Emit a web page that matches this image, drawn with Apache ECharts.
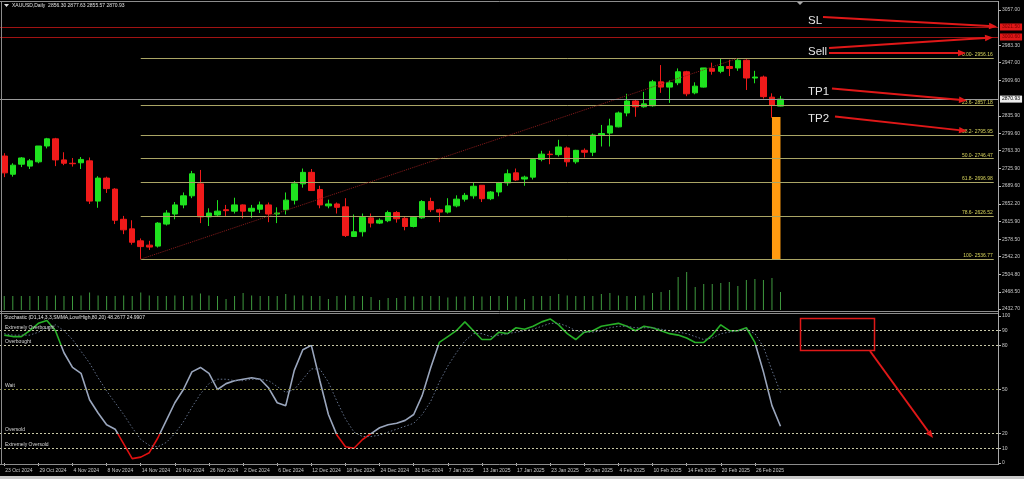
<!DOCTYPE html>
<html><head><meta charset="utf-8">
<script src="https://cdn.jsdelivr.net/npm/echarts@6/dist/echarts.min.js"></script>
<style>html,body{margin:0;padding:0;background:#000;overflow:hidden}#c{width:1024px;height:479px}</style>
</head><body><div id="c"></div>
<script>
// ---------- DATA ----------
const dates = [
'23 Oct 2024','24 Oct 2024','25 Oct 2024','28 Oct 2024','29 Oct 2024','30 Oct 2024','31 Oct 2024',
'1 Nov 2024','4 Nov 2024','5 Nov 2024','6 Nov 2024','7 Nov 2024','8 Nov 2024','11 Nov 2024','12 Nov 2024','13 Nov 2024','14 Nov 2024','15 Nov 2024','18 Nov 2024','19 Nov 2024','20 Nov 2024','21 Nov 2024','22 Nov 2024','25 Nov 2024','26 Nov 2024','27 Nov 2024','28 Nov 2024','29 Nov 2024',
'2 Dec 2024','3 Dec 2024','4 Dec 2024','5 Dec 2024','6 Dec 2024','9 Dec 2024','10 Dec 2024','11 Dec 2024','12 Dec 2024','13 Dec 2024','16 Dec 2024','17 Dec 2024','18 Dec 2024','19 Dec 2024','20 Dec 2024','23 Dec 2024','24 Dec 2024','26 Dec 2024','27 Dec 2024','30 Dec 2024','31 Dec 2024',
'2 Jan 2025','3 Jan 2025','6 Jan 2025','7 Jan 2025','8 Jan 2025','9 Jan 2025','10 Jan 2025','13 Jan 2025','14 Jan 2025','15 Jan 2025','16 Jan 2025','17 Jan 2025','20 Jan 2025','21 Jan 2025','22 Jan 2025','23 Jan 2025','24 Jan 2025','27 Jan 2025','28 Jan 2025','29 Jan 2025','30 Jan 2025','31 Jan 2025',
'3 Feb 2025','4 Feb 2025','5 Feb 2025','6 Feb 2025','7 Feb 2025','10 Feb 2025','11 Feb 2025','12 Feb 2025','13 Feb 2025','14 Feb 2025','17 Feb 2025','18 Feb 2025','19 Feb 2025','20 Feb 2025','21 Feb 2025','24 Feb 2025','25 Feb 2025','26 Feb 2025','27 Feb 2025','28 Feb 2025',
'3 Mar 2025'];
const opens = [2752,2714,2735,2731,2740,2773,2788,2744,2737,2738,
2742,2658,2706,2683,2620,2600,2575,2566,2564,2610,
2631,2650,2669,2694,2625,2629,2640,2637,2650,2637,
2641,2650,2631,2640,2660,2694,2718,2682,2648,2652,
2646,2584,2594,2623,2612,2617,2634,2622,2605,2623,
2657,2640,2635,2648,2662,2669,2691,2663,2677,2696,
2717,2704,2708,2745,2756,2755,2769,2740,2764,2760,
2795,2800,2813,2842,2867,2855,2857,2907,2896,2905,
2928,2884,2896,2935,2929,2939,2936,2952,2915,2917,
2875,2856.30];
const closes = [2717,2733,2748,2742,2773,2788,2744,2737,2736,2745,
2658,2706,2684,2618,2598,2572,2563,2562,2612,2633,
2650,2669,2715,2625,2633,2637,2638,2650,2637,2643,
2650,2631,2633,2660,2694,2718,2680,2650,2652,2645,
2586,2594,2624,2612,2618,2634,2621,2605,2624,2657,
2640,2635,2648,2662,2670,2689,2663,2677,2696,2715,
2702,2708,2745,2756,2755,2771,2740,2764,2760,2796,
2799,2815,2842,2867,2855,2861,2907,2896,2905,2928,
2882,2898,2936,2929,2939,2935,2952,2915,2917,2876,
2858,2870.93];
const highs = [2758,2737,2750,2746,2773,2790,2790,2760,2748,2750,
2749,2710,2709,2685,2627,2618,2580,2575,2614,2639,
2656,2676,2721,2723,2643,2660,2650,2665,2651,2650,
2657,2655,2645,2676,2700,2726,2725,2690,2661,2655,
2664,2630,2632,2632,2622,2638,2637,2626,2625,2660,
2665,2642,2664,2670,2675,2697,2691,2679,2698,2724,
2726,2711,2746,2763,2763,2786,2772,2765,2768,2799,
2817,2830,2845,2882,2870,2886,2911,2942,2910,2935,
2930,2906,2935,2947,2955,2953,2956.16,2954,2930,2920,
2883,2877.63];
const lows = [2708,2709,2729,2725,2737,2768,2731,2733,2730,2725,
2652,2644,2675,2610,2589,2567,2536.77,2556,2561,2607,
2620,2643,2664,2612,2606,2626,2627,2632,2622,2623,
2633,2614,2612,2630,2651,2686,2679,2643,2643,2632,
2583,2583,2584,2603,2610,2614,2613,2597,2603,2621,
2635,2614,2632,2645,2657,2663,2656,2660,2668,2690,
2700,2690,2703,2741,2735,2751,2730,2736,2749,2752,
2772,2772,2812,2835,2834,2853,2855,2884,2863,2900,
2877,2881,2895,2922,2925,2919,2930,2890,2904,2872,
2832,2855.57];
const volumes = [140,140,140,140,140,140,145,140,140,145,
175,145,140,140,145,140,175,145,140,140,
145,140,145,165,145,140,110,140,170,145,
140,140,140,160,145,145,140,140,110,140,
145,140,140,130,100,120,120,140,135,140,
140,140,125,135,135,140,135,140,140,140,
135,110,140,140,140,160,145,140,140,140,
160,170,145,140,140,145,170,180,200,330,
380,230,260,260,270,280,240,300,310,300,
320,180];
const stochMain = [87,86,86,90,95,97,90,75,65,61,
43,34,26,23,13,3,4,7,17,29,
41,50,62,65,61,50,54,56,57,58,
57,51,41,39,63,77,80,56,33,19,
11,10,16,20,24,26,27,29,33,46,
65,82,86,90,96,90,84,84,89,88,
92,91,93,96,98,94,88,84,89,90,
93,94,95,93,90,93,92,90,88,87,
85,82,82,87,94,90,90,92,82,62,
39,25];
const stochSignal = [88,87,87,87,89,92,94,90,84,76,
68,58,49,41,33,24,16,12,11,14,
20,28,38,47,54,57,57,56,56,57,
57,56,52,48,50,57,64,64,55,42,
30,21,18,18,19,21,23,25,27,33,
42,55,66,75,83,88,88,86,87,88,
89,90,91,93,95,95,93,90,89,89,
90,92,93,93,92,92,92,91,90,89,
88,86,84,85,88,89,90,91,88,79,
63,48];
const priceTicks = [3057.00,2983.30,2947.00,2909.60,2835.90,2799.60,2763.30,2725.90,2689.60,2652.20,2615.90,2578.50,2542.20,2504.80,2468.50,2432.70];
const stochTicks = [0,10,20,50,80,90,100];
const fibNames = ['0.00','23.6','38.2','50.0','61.8','78.6','100'];
const fibPrices = [2956.16,2857.18,2795.95,2746.47,2696.98,2626.52,2536.77];
const stochLevels = [90,80,50,20,10];
const stochLevelNames = ['Extremely Overbought','Overbought','Wait','Oversold','Extremely Oversold'];
const slPrices = [3021.50,3000.60];
const lastPrice = 2870.93;
const orangeTop = 2833.6;
const swingLowIdx = 16, swingHighIdx = 86;
const titleText = 'XAUUSD,Daily  2856.30 2877.63 2855.57 2870.93';
const stochTitle = 'Stochastic (D1,14,3,3,SMMA,Low/High,80,20) 48.2677 24.9907';
const futurePad = 25;

// ---------- BUILD ----------
const cats = dates.concat(Array.from({length: futurePad}, (_, k) => '+' + (k + 1)));
const N = cats.length;
const candles = dates.map((d, i) => [opens[i], closes[i], lows[i], highs[i]]);
const GL = -1, GW = 999;
const FONT = 'Liberation Sans';
const RED = '#e01818';

const fibLines = fibPrices.map((p, k) => [
  {coord: [swingLowIdx, p], label: {formatter: fibNames[k] + '- ' + p.toFixed(2)}},
  {coord: [N - 1, p]}
]);

const option = {
  animation: false,
  backgroundColor: '#000',
  grid: [
    {left: GL, width: GW, top: 3, height: 308},
    {left: GL, width: GW, top: 262, height: 48},
    {left: GL, width: GW, top: 316, height: 147}
  ],
  xAxis: [
    {type: 'category', gridIndex: 0, data: cats, boundaryGap: true, axisLine: {show: false}, axisTick: {show: false}, axisLabel: {show: false}, splitLine: {show: false}},
    {type: 'category', gridIndex: 1, data: cats, boundaryGap: true, show: false},
    {type: 'category', gridIndex: 2, data: cats, boundaryGap: true, position: 'bottom',
      axisLine: {show: false},
      axisTick: {show: true, interval: (i) => i % 4 === 0 && i < dates.length - 2, alignWithLabel: true, length: 3, lineStyle: {color: '#bbb'}},
      axisLabel: {interval: (i) => i % 4 === 0 && i < dates.length - 2, color: '#c8c8c8', fontSize: 5, fontFamily: FONT, align: 'left', margin: 5, padding: [0, 0, 0, 1]},
      splitLine: {show: false}}
  ],
  yAxis: [
    {type: 'value', gridIndex: 0, position: 'right', min: 2428.5, max: 3071.6, scale: true,
      axisLine: {show: false}, splitLine: {show: false},
      axisTick: {show: true, customValues: priceTicks, length: 3, lineStyle: {color: '#bbb'}},
      axisLabel: {customValues: priceTicks, formatter: (v) => v.toFixed(2), color: '#c8c8c8', fontSize: 5, fontFamily: FONT, margin: 4}},
    {type: 'value', gridIndex: 1, min: 0, max: 480, show: false},
    {type: 'value', gridIndex: 2, position: 'right', min: 0, max: 100,
      axisLine: {show: false}, splitLine: {show: false},
      axisTick: {show: true, customValues: stochTicks, length: 3, lineStyle: {color: '#bbb'}},
      axisLabel: {customValues: stochTicks, color: '#c8c8c8', fontSize: 5, fontFamily: FONT, margin: 4}}
  ],
  visualMap: [{
    type: 'piecewise', show: false, seriesIndex: 2, dimension: 1,
    pieces: [
      {lt: 20, color: '#e01010'},
      {gte: 20, lte: 80, color: '#9aa6bd'},
      {gt: 80, color: '#27b027'}
    ]
  }],
  series: [
    {
      type: 'candlestick', xAxisIndex: 0, yAxisIndex: 0, data: candles, barWidth: 6,
      itemStyle: {color: '#1fe21f', color0: '#f01a1a', borderColor: '#1fe21f', borderColor0: '#f01a1a', borderWidth: 1},
      markArea: {silent: true, itemStyle: {color: '#ff9a10'}, data: [[{coord: [90, orangeTop]}, {coord: [91, fibPrices[6]]}]]},
      markLine: {
        silent: true, symbol: ['none', 'none'], animation: false,
        data: [
          ...fibLines.map(l => [
            Object.assign({}, l[0], {lineStyle: {color: '#aaa565', width: 1, type: 'solid'},
              label: Object.assign({show: true, position: 'insideEndTop', distance: 1, color: '#d7d35c', fontSize: 5, fontFamily: FONT}, l[0].label)}),
            l[1]
          ]),
          [{coord: [swingLowIdx, fibPrices[6]], lineStyle: {color: '#8a1c1c', width: 1, type: 'dotted'}, label: {show: false}},
           {coord: [swingHighIdx, fibPrices[0]]}],
          ...slPrices.map(p => ({yAxis: p, lineStyle: {color: '#a01212', width: 1, type: 'solid'},
            label: {show: true, position: 'end', distance: 2, formatter: p.toFixed(2), backgroundColor: '#e01818', color: '#7a0000', fontSize: 5, fontFamily: FONT, padding: [1, 2]}})),
          {yAxis: lastPrice, lineStyle: {color: '#9a9a9a', width: 1, type: 'solid'},
            label: {show: true, position: 'end', distance: 2, formatter: lastPrice.toFixed(2), backgroundColor: '#ececec', color: '#000', fontSize: 5, fontFamily: FONT, padding: [1, 2]}}
        ]
      }
    },
    {
      type: 'bar', xAxisIndex: 1, yAxisIndex: 1, data: volumes, barWidth: 1,
      itemStyle: {color: '#3f9a3f'}, silent: true
    },
    {
      type: 'line', xAxisIndex: 2, yAxisIndex: 2, data: stochMain, symbol: 'none',
      lineStyle: {width: 1.6}, silent: true,
      markLine: {
        silent: true, symbol: ['none', 'none'],
        data: stochLevels.map((v, k) => ({yAxis: v,
          lineStyle: {color: v === 50 ? '#8f8f4a' : '#c9c9a8', width: 1, type: [2, 2]},
          label: {show: true, position: 'insideStartTop', distance: 1, formatter: stochLevelNames[k], color: '#d8d8d8', fontSize: 5, fontFamily: FONT, padding: [0, 0, 0, 4]}}))
      }
    },
    {
      type: 'line', xAxisIndex: 2, yAxisIndex: 2, data: stochSignal, symbol: 'none',
      lineStyle: {width: 1, type: [1.5, 2], color: '#62708a'}, silent: true
    }
  ],
  graphic: []
};

function arrow(x1, y1, x2, y2, color, w) {
  const ang = Math.atan2(y2 - y1, x2 - x1);
  const L = 8, H = 3.2;
  const bx = x2 - L * Math.cos(ang), by = y2 - L * Math.sin(ang);
  const px = -Math.sin(ang) * H, py = Math.cos(ang) * H;
  return [
    {type: 'line', shape: {x1: x1, y1: y1, x2: bx, y2: by}, style: {stroke: color, lineWidth: w}, silent: true, z: 100},
    {type: 'polygon', shape: {points: [[x2, y2], [bx + px, by + py], [bx - px, by - py]]}, style: {fill: color}, silent: true, z: 100}
  ];
}
function hline(x1, x2, y, c) { return {type: 'line', shape: {x1, y1: y, x2, y2: y}, style: {stroke: c, lineWidth: 1}, silent: true, z: 50}; }
function vline(x, y1, y2, c) { return {type: 'line', shape: {x1: x, y1, x2: x, y2}, style: {stroke: c, lineWidth: 1}, silent: true, z: 50}; }
function label(t, x, y) { return {type: 'text', x, y, style: {text: t, fill: '#e6e6e6', font: '11.5px "Liberation Sans"', textVerticalAlign: 'middle'}, silent: true, z: 101}; }

const g = [];
// frame
g.push(hline(0, 999, 1.5, '#8c8c8c'), hline(0, 999, 311.5, '#8c8c8c'), hline(0, 999, 313.5, '#8c8c8c'), hline(0, 999, 464.5, '#8c8c8c'));
g.push(vline(998.5, 1, 465, '#a8a8a8'), vline(1.5, 1, 465, '#8c8c8c'));
g.push({type: 'rect', shape: {x: 0, y: 476, width: 1024, height: 3}, style: {fill: '#c8c8c8'}, silent: true});
// titles
g.push({type: 'polygon', shape: {points: [[4, 4], [9, 4], [6.5, 7]]}, style: {fill: '#ddd'}, silent: true, z: 101});
g.push({type: 'text', x: 12, y: 6, style: {text: titleText, fill: '#e0e0e0', font: '5px "Liberation Sans"', textVerticalAlign: 'middle'}, silent: true, z: 101});
g.push({type: 'text', x: 4, y: 317.5, style: {text: stochTitle, fill: '#e0e0e0', font: '5px "Liberation Sans"', textVerticalAlign: 'middle'}, silent: true, z: 101});
g.push({type: 'polygon', shape: {points: [[797, 2], [803, 2], [800, 5]]}, style: {fill: '#aaa'}, silent: true, z: 101});
// trade annotations
g.push(label('SL', 808, 21), label('Sell', 808, 52), label('TP1', 808, 91.5), label('TP2', 808, 118.5));
g.push(...arrow(823, 17, 997, 26.5, RED, 2));
g.push(...arrow(829, 48, 993, 37.5, RED, 2));
g.push(...arrow(829, 53, 966, 53, RED, 2));
g.push(...arrow(832, 88.5, 967, 100.5, RED, 2));
g.push(...arrow(835, 116.5, 967, 131, RED, 2));
g.push({type: 'rect', shape: {x: 800.5, y: 318.5, width: 74, height: 32}, style: {fill: 'none', stroke: RED, lineWidth: 1.5}, silent: true, z: 100});
g.push(...arrow(870, 351, 933, 438, RED, 2));
option.graphic = g;

const chart = echarts.init(document.getElementById('c'), null, {renderer: 'canvas', width: 1024, height: 479});
chart.setOption(option);
</script>
</body></html>
